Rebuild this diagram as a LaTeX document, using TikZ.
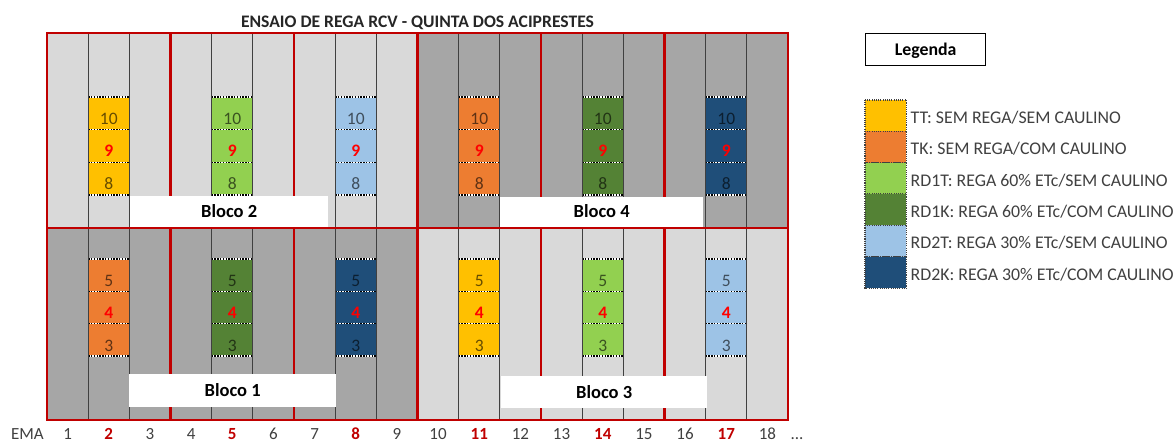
\documentclass[tikz,border=0pt]{standalone}
\usepackage{fontspec}
\setmainfont{Carlito}
\definecolor{cTT}{HTML}{FFC000}
\definecolor{cTK}{HTML}{ED7D31}
\definecolor{cRDoneT}{HTML}{92D050}
\definecolor{cRDoneK}{HTML}{548235}
\definecolor{cRDtwoT}{HTML}{9DC3E6}
\definecolor{cRDtwoK}{HTML}{1F4E79}
\definecolor{lgray}{HTML}{D9D9D9}
\definecolor{dgray}{HTML}{A6A6A6}
\definecolor{redframe}{HTML}{C00000}
\definecolor{colline}{HTML}{404040}
\definecolor{txtgray}{HTML}{404040}
\definecolor{numred}{HTML}{FF0000}
\begin{document}
\begin{tikzpicture}[x=1pt,y=-1pt,
  font=\fontsize{17}{20}\selectfont,
  cellbox/.style={fill=#1, draw=none, inner sep=0pt, minimum width=41.17pt, minimum height=32.67pt, anchor=north west},
  numtxt/.style={text=#1!40!black, font=\fontsize{17.5}{20}\selectfont, inner sep=0pt, anchor=base},
  midtxt/.style={text=numred, font=\fontsize{17.5}{20}\selectfont\bfseries, inner sep=0pt, anchor=base},
  dotline/.style={draw=black, line width=1.4pt, dash pattern=on 1.4pt off 1.4pt},
  whiteline/.style={draw=white, line width=1.4pt},
  colsep/.style={draw=colline, line width=1.2pt},
  redline/.style={draw=redframe, line width=2.6pt},
  blocobox/.style={fill=white, draw=none, inner sep=0pt, anchor=north west},
  blocotxt/.style={font=\fontsize{18.5}{22}\selectfont\bfseries, text=black, inner sep=0pt, anchor=base},
  swatch/.style={fill=#1, draw=none, inner sep=0pt, minimum width=41pt, minimum height=31.3pt, anchor=north west},
  legtxt/.style={text=txtgray, font=\fontsize{17.8}{21}\selectfont, inner sep=0pt, anchor=base west},
  ematxt/.style={text=txtgray, inner sep=0pt, anchor=base},
  emabold/.style={text=redframe, font=\fontsize{17}{20}\selectfont\bfseries, inner sep=0pt, anchor=base}
]
\useasboundingbox (0,0) rectangle (1175,441);
\def\cw{41.1667}
% background quadrants
\fill[lgray] (47,33) rectangle (417.5,228);
\fill[dgray] (417.5,33) rectangle (788,228);
\fill[dgray] (47,228) rectangle (417.5,420);
\fill[lgray] (417.5,228) rectangle (788,420);
% treatment cells, top row (10, 9, 8)
\foreach \c/\cl in {2/cTT,5/cRDoneT,8/cRDtwoT,11/cTK,14/cRDoneK,17/cRDtwoK}{
  \pgfmathsetmacro{\xl}{47+(\c-1)*\cw}
  \pgfmathsetmacro{\xc}{\xl+\cw/2}
  \node[cellbox=\cl] (top\c a) at (\xl,97) {};
  \node[cellbox=\cl] (top\c b) at (\xl,129.67) {};
  \node[cellbox=\cl] (top\c c) at (\xl,162.33) {};
  \foreach \yy in {97,129.67,162.33,195}{
    \draw[whiteline] (\xl,\yy) -- ++(\cw,0);
    \draw[dotline] (\xl,\yy) -- ++(\cw,0);
  }
  \node[numtxt=\cl] (n\c x) at (\xc,124.5) {10};
  \node[midtxt] (n\c y) at (\xc,156.8) {9};
  \node[numtxt=\cl] (n\c z) at (\xc,189.5) {8};
}
% treatment cells, bottom row (5, 4, 3)
\foreach \c/\cl in {2/cTK,5/cRDoneK,8/cRDtwoK,11/cTT,14/cRDoneT,17/cRDtwoT}{
  \pgfmathsetmacro{\xl}{47+(\c-1)*\cw}
  \pgfmathsetmacro{\xc}{\xl+\cw/2}
  \node[cellbox=\cl, minimum height=32.33pt] (bot\c a) at (\xl,259) {};
  \node[cellbox=\cl, minimum height=32.33pt] (bot\c b) at (\xl,291.33) {};
  \node[cellbox=\cl, minimum height=32.33pt] (bot\c c) at (\xl,323.67) {};
  \foreach \yy in {259,291.33,323.67,356}{
    \draw[whiteline] (\xl,\yy) -- ++(\cw,0);
    \draw[dotline] (\xl,\yy) -- ++(\cw,0);
  }
  \node[numtxt=\cl] (m\c x) at (\xc,286.5) {5};
  \node[midtxt] (m\c y) at (\xc,318.8) {4};
  \node[numtxt=\cl] (m\c z) at (\xc,351) {3};
}
% column separators
\foreach \i in {1,...,17}{
  \draw[colsep] ({47+\i*\cw},33) -- ({47+\i*\cw},420);
}
% red frames of 3-column groups
\foreach \g in {0,...,5}{
  \draw[redline] ({47+3*\g*\cw},33) rectangle ({47+3*(\g+1)*\cw},228);
  \draw[redline] ({47+3*\g*\cw},228) rectangle ({47+3*(\g+1)*\cw},420);
}
% bloco labels
\node[blocobox, minimum width=198pt, minimum height=31pt] (b2) at (130,196) {};
\node[blocotxt] at ([yshift=-5.5pt]b2.center) {Bloco 2};
\node[blocobox, minimum width=203pt, minimum height=30pt] (b4) at (500,197) {};
\node[blocotxt] at ([yshift=-5.5pt]b4.center) {Bloco 4};
\node[blocobox, minimum width=207pt, minimum height=33pt] (b1) at (129,374) {};
\node[blocotxt] at ([yshift=-6pt]b1.center) {Bloco 1};
\node[blocobox, minimum width=206pt, minimum height=32pt] (b3) at (501,376) {};
\node[blocotxt] at ([yshift=-6pt]b3.center) {Bloco 3};
% title
\node[font=\fontsize{17.6}{21}\selectfont\bfseries, text=black!85, inner sep=0pt, anchor=base] (title) at (417.5,28) {ENSAIO DE REGA RCV - QUINTA DOS ACIPRESTES};
% EMA axis
\node[ematxt] (ema) at (27.5,439) {EMA};
\foreach \i in {1,...,18}{
  \pgfmathtruncatemacro{\r}{mod(\i,3)}
  \ifnum\r=2
    \node[emabold] (e\i) at ({47+(\i-0.5)*\cw},439) {\i};
  \else
    \node[ematxt] (e\i) at ({47+(\i-0.5)*\cw},439) {\i};
  \fi
}
\node[ematxt] (dots) at (797,439) {...};
% legend
\node[draw=black, line width=1.3pt, minimum width=120pt, minimum height=32pt, inner sep=0pt, anchor=north west] (leg) at (865,33) {};
\node[font=\fontsize{17.8}{21}\selectfont\bfseries, inner sep=0pt, anchor=base] at ([yshift=-5.5pt]leg.center) {Legenda};
\foreach \k/\cl/\t in {0/cTT/{TT: SEM REGA/SEM CAULINO},1/cTK/{TK: SEM REGA/COM CAULINO},2/cRDoneT/{RD1T: REGA 60\% ETc/SEM CAULINO},3/cRDoneK/{RD1K: REGA 60\% ETc/COM CAULINO},4/cRDtwoT/{RD2T: REGA 30\% ETc/SEM CAULINO},5/cRDtwoK/{RD2K: REGA 30\% ETc/COM CAULINO}}{
  \pgfmathsetmacro{\yt}{100+\k*31.3}
  \node[swatch=\cl] (s\k) at (865,\yt) {};
  \draw[dotline, draw=colline, line width=1.1pt, dash pattern=on 1.1pt off 1.1pt] (s\k.north west) rectangle (s\k.south east);
  \node[legtxt] (l\k) at (910.5,{\yt+23.5}) {\t};
}
\end{tikzpicture}
\end{document}
